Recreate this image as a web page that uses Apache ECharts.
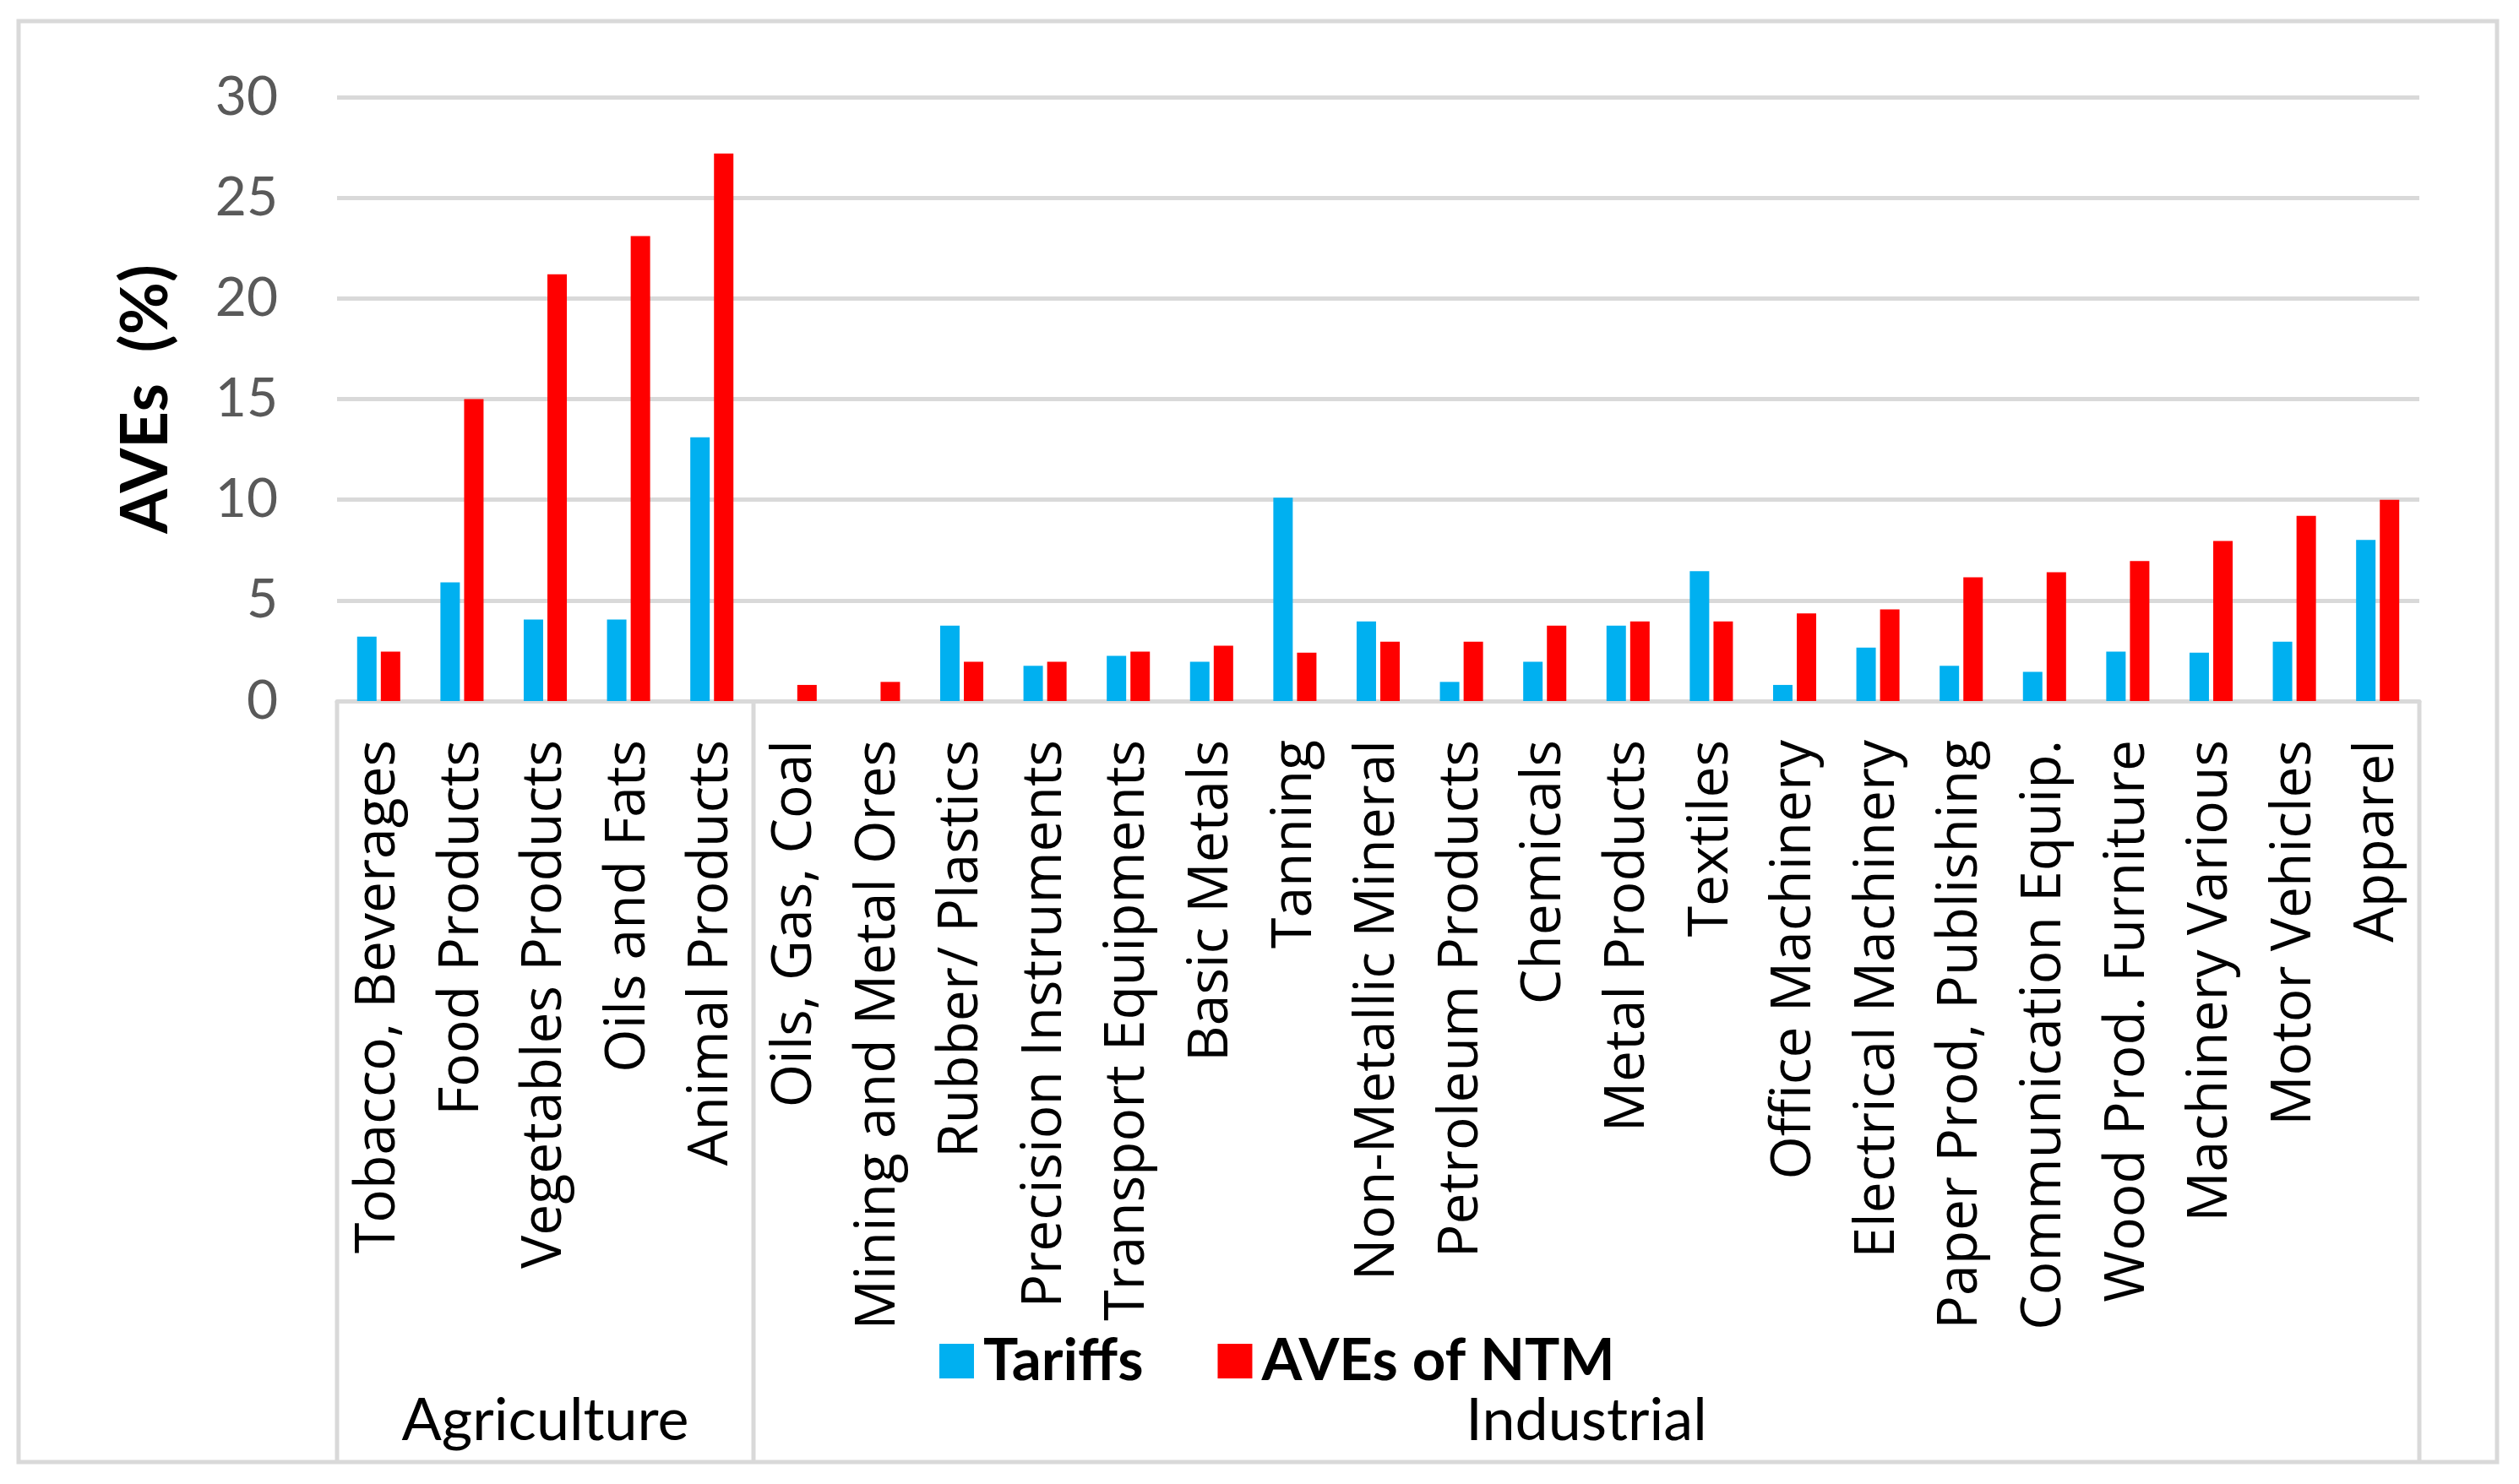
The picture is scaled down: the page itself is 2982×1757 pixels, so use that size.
<!DOCTYPE html>
<html>
<head>
<meta charset="utf-8">
<script src="https://cdn.jsdelivr.net/npm/echarts@6/dist/echarts.min.js"></script>
<style>
html,body{margin:0;padding:0;background:#fff;}
#chart{width:2982px;height:1757px;}
</style>
</head>
<body>
<div id="chart"></div>
<script>
const categories = ["Tobacco, Beverages","Food Products","Vegetables Products","Oils and Fats","Animal Products",
  "Oils, Gas, Coal","Mining and Metal Ores","Rubber/ Plastics","Precision Instruments","Transport Equipments",
  "Basic Metals","Tanning","Non-Metallic Mineral","Petroleum Products","Chemicals","Metal Products","Textiles",
  "Office Machinery","Electrical Machinery","Paper Prod, Publishing","Communication Equip.","Wood Prod. Furniture",
  "Machinery Various","Motor Vehicles","Apparel"];
const tariffs = [3.2,5.9,4.05,4.05,13.1, 0,0,3.75,1.75,2.25,1.95,10.1,3.95,0.95,1.95,3.75,6.45,0.8,2.65,1.75,1.45,2.45,2.4,2.95,8.0];
const ntm     = [2.45,15.0,21.2,23.1,27.2, 0.8,0.95,1.95,1.95,2.45,2.75,2.4,2.95,2.95,3.75,3.95,3.95,4.35,4.55,6.15,6.4,6.95,7.95,9.2,10.0];
const yTicks = [0,5,10,15,20,25,30];
const groups = [{name:"Agriculture", count:5},{name:"Industrial", count:20}];
const seriesNames = ["Tariffs","AVEs of NTM"];

const chart = echarts.init(document.getElementById('chart'), null, {renderer:'canvas'});
const option = {
  backgroundColor:'#fff',
  animation:false,
  grid:{left:399,right:118,top:115,bottom:927,containLabel:false},
  legend:{
    data:seriesNames, left:1107, top:1572, icon:'rect', itemWidth:41, itemHeight:41, itemGap:88,
    textStyle:{fontFamily:'Lato',fontWeight:'bold',fontSize:69,color:'#000',padding:[0,0,0,6]}
  },
  xAxis:{
    type:'category', data:categories,
    axisLine:{show:true,lineStyle:{color:'#D9D9D9',width:5}},
    axisTick:{show:false},
    axisLabel:{rotate:90,interval:0,margin:46,fontFamily:'Open Sans',fontSize:66,color:'#000'}
  },
  yAxis:{
    type:'value', min:yTicks[0], max:yTicks[yTicks.length-1], interval:5,
    name:'AVEs  (%)', nameLocation:'middle', nameRotate:90, nameGap:188,
    nameTextStyle:{fontFamily:'Lato',fontWeight:'bold',fontSize:76,color:'#000'},
    axisLine:{show:false}, axisTick:{show:false},
    axisLabel:{fontFamily:'Lato',fontSize:64,color:'#595959',margin:70},
    splitLine:{lineStyle:{color:'#D9D9D9',width:5}}
  },
  series:[
    {name:seriesNames[0],type:'bar',data:tariffs,barWidth:23,barGap:'22%',itemStyle:{color:'#00B0F0'}},
    {name:seriesNames[1],type:'bar',data:ntm,barWidth:23,barGap:'22%',itemStyle:{color:'#FF0000'}}
  ]
};
chart.setOption(option);

// group box & labels derived from axis scale
const x0 = chart.convertToPixel({xAxisIndex:0}, 0);
const x1 = chart.convertToPixel({xAxisIndex:0}, 1);
const band = x1 - x0;
const axisY = chart.convertToPixel({yAxisIndex:0}, 0);
const bottomY = 1731;
const gfx = [];
gfx.push({type:'rect',shape:{x:22,y:25,width:2934,height:1706},style:{fill:null,stroke:'#D9D9D9',lineWidth:5},z:-1});
let start = x0 - band/2;
gfx.push({type:'line',shape:{x1:start,y1:axisY,x2:start,y2:bottomY},style:{stroke:'#D9D9D9',lineWidth:5}});
groups.forEach(g=>{
  const end = start + band*g.count;
  gfx.push({type:'line',shape:{x1:end,y1:axisY,x2:end,y2:bottomY},style:{stroke:'#D9D9D9',lineWidth:5}});
  gfx.push({type:'text',x:(start+end)/2,y:1682,style:{text:g.name,fontFamily:'Lato',fontSize:70,fill:'#000',textAlign:'center',textVerticalAlign:'middle'}});
  start = end;
});
chart.setOption({graphic:gfx});
</script>
</body>
</html>
